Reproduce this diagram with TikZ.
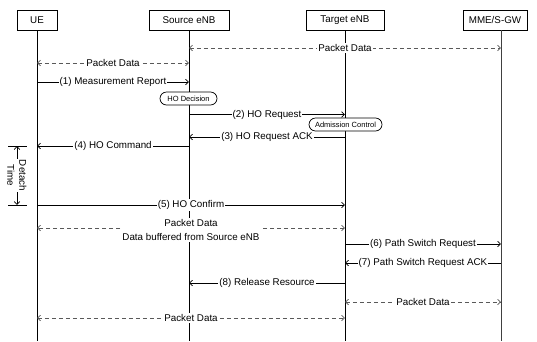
\documentclass[tikz,border=0pt]{standalone}
\usepackage{fontspec}
\setmainfont{Liberation Sans}
\usetikzlibrary{arrows.meta}
\begin{document}
\begin{tikzpicture}[x=1pt,y=-1pt,
  hdr/.style={draw, line width=0.7pt, minimum height=20pt, inner sep=0pt, font=\fontsize{9.8}{11}\selectfont},
  life/.style={line width=0.8pt},
  tip/.style={Straight Barb[length=3pt,width=5.5pt]},
  msg/.style={-{Straight Barb[length=3pt,width=5.5pt]}, line width=0.7pt},
  dmsg/.style={{Straight Barb[length=3pt,width=5.5pt]}-{Straight Barb[length=3pt,width=5.5pt]}, line width=0.7pt, dash pattern=on 4pt off 3pt, black!65},
  lbl/.style={fill=white, inner sep=1pt, text=black, font=\fontsize{9.8}{11}\selectfont},
  act/.style={draw, line width=0.7pt, fill=white, rounded corners=6.5pt, minimum height=13pt, inner sep=0pt, font=\fontsize{7.5}{9}\selectfont}
]
\useasboundingbox (0,0) rectangle (537,341);
% headers
\node[hdr, minimum width=40pt] (ue) at (37,20) {UE};
\node[hdr, minimum width=80pt] (src) at (189,20) {Source eNB};
\node[hdr, minimum width=78pt] (tgt) at (345,20) {Target eNB};
\node[hdr, minimum width=64pt] (mme) at (495,20) {MME/S-GW};
% lifelines
\coordinate (ueT) at (37,30);  \coordinate (ueB) at (37,341);
\coordinate (srcT) at (189,30); \coordinate (srcB) at (189,341);
\coordinate (tgtT) at (345,30); \coordinate (tgtB) at (345,341);
\coordinate (mmeT) at (501,30); \coordinate (mmeB) at (501,341);
\draw[life] (ueT) -- (ueB);
\draw[life] (srcT) -- (srcB);
\draw[life] (tgtT) -- (tgtB);
\draw[life, black!75] (mmeT) -- (mmeB);
% rows
\coordinate (r0) at (0,48);
\coordinate (r1) at (0,63);
\coordinate (r2) at (0,82);
\coordinate (r3) at (0,114.5);
\coordinate (r4) at (0,137);
\coordinate (r5) at (0,146);
\coordinate (r6) at (0,205);
\coordinate (r7) at (0,228);
\coordinate (r8) at (0,244);
\coordinate (r9) at (0,263);
\coordinate (r10) at (0,283);
\coordinate (r11) at (0,302);
\coordinate (r12) at (0,318);
% messages
\draw[dmsg] (srcT |- r0) -- node[lbl] {Packet Data} (mmeT |- r0);
\draw[dmsg] (ueT |- r1) -- node[lbl] {Packet Data} (srcT |- r1);
\draw[msg] (ueT |- r2) -- node[lbl] {(1) Measurement Report} (srcT |- r2);
\node[act, minimum width=57pt] (hod) at (188.5,98.5) {HO Decision};
\draw[msg] (srcT |- r3) -- node[lbl] {(2) HO Request} (tgtT |- r3);
\node[act, minimum width=73pt] (adm) at (345.5,124.5) {Admission Control};
\draw[msg] (tgtT |- r4) -- node[lbl] {(3) HO Request ACK} (srcT |- r4);
\draw[msg] (srcT |- r5) -- node[lbl] {(4) HO Command} (ueT |- r5);
\draw[msg] (ueT |- r6) -- node[lbl] {(5) HO Confirm} (tgtT |- r6);
\draw[dmsg] (tgtT |- r7) -- node[lbl, align=center, yshift=-2pt, font=\fontsize{9.8}{14}\selectfont] {Packet Data\\Data buffered from Source eNB} (ueT |- r7);
\draw[msg] (tgtT |- r8) -- node[lbl] {(6) Path Switch Request} (mmeT |- r8);
\draw[msg] (mmeT |- r9) -- node[lbl] {(7) Path Switch Request ACK} (tgtT |- r9);
\draw[msg] (tgtT |- r10) -- node[lbl] {(8) Release Resource} (srcT |- r10);
\draw[dmsg] (tgtT |- r11) -- node[lbl] {Packet Data} (mmeT |- r11);
\draw[dmsg] (ueT |- r12) -- node[lbl] {Packet Data} (tgtT |- r12);
% detach time
\coordinate (dtl) at (8,146); \coordinate (dtr) at (27,146);
\coordinate (dbl) at (8,205); \coordinate (dbr) at (27,205);
\coordinate (da) at (17,146); \coordinate (db) at (17,205);
\draw[line width=0.7pt] (dtl) -- (dtr);
\draw[line width=0.7pt] (dbl) -- (dbr);
\draw[line width=0.7pt, {Straight Barb[length=3pt,width=5.5pt]}-{Straight Barb[length=3pt,width=5.5pt]}] (da) -- node[lbl, rotate=-90, align=center, font=\fontsize{9.8}{12}\selectfont] {Detach\\Time} (db);
\end{tikzpicture}
\end{document}
